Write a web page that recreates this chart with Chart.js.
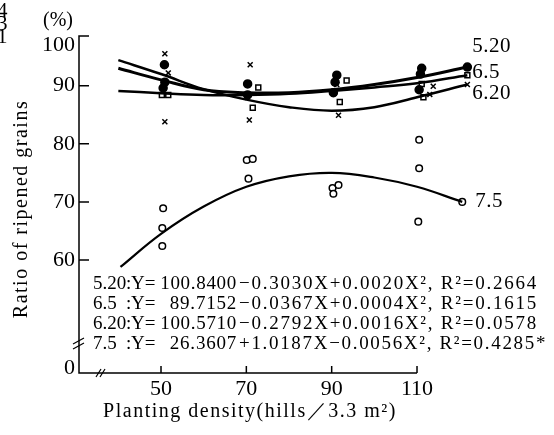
<!DOCTYPE html>
<html>
<head>
<meta charset="utf-8">
<script src="https://cdn.jsdelivr.net/npm/chart.js@4.4.0/dist/chart.umd.min.js"></script>
<style>
  body { margin: 0; background: #fff; }
  #wrap { width: 554px; height: 435px; }
</style>
</head>
<body>
<div id="wrap"><canvas id="chart"></canvas></div>
<script>
// planting density ticks (hills / 3.3 m2)
const densities = [50, 70, 90, 110];
// y ticks: "0" sits on the broken bottom, "100" above the last tick
const yTicks = [41.3, 60, 70, 80, 90, 97];
const yTickText = ["0", "60", "70", "80", "90", "100"];

// transplanting dates
const seriesNames = ["5.20", "6.5", "6.20", "7.5"];

// fitted curves
const curveX = [40, 50, 60, 70, 80, 90, 100, 110, 121.8];
const curve520 = [93.0, 91.0, 89.3, 88.8, 88.8, 89.3, 90.2, 91.4, 93.2];
const curve65 = [89.1, 88.7, 88.4, 88.4, 88.6, 89.1, 89.7, 90.4, 91.8];
const curve620 = [94.4, 92.0, 89.4, 87.6, 86.3, 85.7, 86.3, 88.0, 90.2];
const curveX75 = [40.5, 50, 60, 70, 80, 90, 100, 110, 120.6];
const curve75 = [58.8, 64.5, 69.2, 72.6, 74.4, 75.0, 74.2, 72.6, 70.0];

// observed ratios of ripened grains (%)
const obsX520 = [50.8, 50.9, 50.5, 70.3, 70.3, 91.2, 90.8, 90.4, 111.1, 110.8, 110.5, 121.8];
const obsY520 = [93.6, 90.6, 89.6, 90.3, 88.4, 91.8, 90.6, 88.8, 93.0, 92.0, 89.3, 93.2];
const obsX65 = [50.2, 51.7, 72.8, 71.5, 93.5, 91.9, 111.1, 111.5, 121.8];
const obsY65 = [88.4, 88.4, 89.7, 86.2, 90.9, 87.2, 90.3, 88.0, 91.8];
const obsX620 = [50.9, 51.7, 50.9, 70.9, 70.7, 91.6, 91.2, 113.8, 113.0, 121.8];
const obsY620 = [95.5, 92.2, 83.8, 93.6, 84.1, 84.9, 90.2, 89.9, 88.5, 90.2];
const obsX75 = [50.5, 50.3, 50.3, 70.1, 71.5, 70.5, 90.2, 91.6, 90.4, 110.5, 110.5, 110.3, 120.6];
const obsY75 = [68.9, 65.5, 62.4, 77.2, 77.4, 74.0, 72.4, 72.9, 71.4, 80.7, 75.8, 66.6, 70.0];

// regression equations printed in the figure
const eqCoef = ["100.8400", "89.7152", "100.5710", "26.3607"];
const eqRest = [
  "−0.3030X+0.0020X², R²=0.2664",
  "−0.0367X+0.0004X², R²=0.1615",
  "−0.2792X+0.0016X², R²=0.0578",
  "+1.0187X−0.0056X², R²=0.4285*",
];

const serif = "'Liberation Serif', 'DejaVu Serif', serif";
const toPoints = (xs, ys) => xs.map((x, i) => ({ x: x, y: ys[i] }));

const curve = (xs, ys, width) => ({
  type: "line",
  data: toPoints(xs, ys),
  borderColor: "#000",
  borderWidth: width,
  pointRadius: 0,
  tension: 0.4,
  fill: false,
  clip: false,
});

const marks = (xs, ys, style, radius, fill) => ({
  type: "scatter",
  data: toPoints(xs, ys),
  pointStyle: style,
  pointRadius: radius,
  pointBackgroundColor: fill,
  pointBorderColor: "#000",
  pointBorderWidth: 1.5,
  clip: false,
});

// spread a string so that it fills a given width
const fitText = (ctx, text, x, y, width) => {
  ctx.letterSpacing = "0px";
  const w = ctx.measureText(text).width;
  ctx.letterSpacing = ((width - w) / text.length).toFixed(2) + "px";
  ctx.fillText(text, x, y);
  ctx.letterSpacing = "0px";
};

// axes, ticks, breaks and printed texts
const paperPlugin = {
  id: "paper",
  afterDraw(chart) {
    const ctx = chart.ctx;
    const xs = chart.scales.x;
    const ys = chart.scales.y;
    const left = chart.chartArea.left;
    const top = chart.chartArea.top;
    const bottom = chart.chartArea.bottom;
    const xEnd = xs.getPixelForValue(densities[densities.length - 1]);

    ctx.save();
    ctx.strokeStyle = "#000";
    ctx.lineWidth = 1.5;
    ctx.beginPath();
    ctx.moveTo(left + 10, top);
    ctx.lineTo(left, top);
    ctx.lineTo(left, bottom);
    ctx.lineTo(xEnd, bottom);
    yTicks.forEach((v, i) => {
      if (i === 0 || i === yTicks.length - 1) return;
      const py = ys.getPixelForValue(v);
      ctx.moveTo(left, py);
      ctx.lineTo(left + 10, py);
    });
    densities.forEach((v) => {
      const px = xs.getPixelForValue(v);
      ctx.moveTo(px, bottom);
      ctx.lineTo(px, bottom - 7);
    });
    ctx.stroke();

    // axis breaks
    ctx.lineWidth = 1.2;
    ctx.beginPath();
    ctx.moveTo(96, bottom + 4);
    ctx.lineTo(101, bottom - 4);
    ctx.moveTo(100, bottom + 4);
    ctx.lineTo(105, bottom - 4);
    ctx.moveTo(73, 344);
    ctx.lineTo(84, 338);
    ctx.moveTo(73, 349);
    ctx.lineTo(84, 343);
    ctx.stroke();

    ctx.fillStyle = "#000";
    ctx.textBaseline = "middle";

    // equations
    ctx.font = "19px " + serif;
    seriesNames.forEach((name, i) => {
      const y = 284 + i * 20;
      ctx.textAlign = "left";
      ctx.fillText(name, 93, y);
      ctx.fillText(":", 126, y);
      ctx.fillText("Y=", 131, y);
      fitText(ctx, eqCoef[i], 237 - eqCoef[i].length * 9.6, y, eqCoef[i].length * 9.6);
      fitText(ctx, eqRest[i], 239, y, i === 3 ? 308 : 299);
    });

    // date labels at the curve ends
    ctx.letterSpacing = "0.5px";
    ctx.font = "21px " + serif;
    const ends = [
      [curveX, curve520, -21],
      [curveX, curve65, -3],
      [curveX, curve620, 9],
      [curveX75, curve75, 0],
    ];
    ends.forEach((e, i) => {
      const last = e[0].length - 1;
      const px = xs.getPixelForValue(e[0][last]);
      const py = ys.getPixelForValue(e[1][last]);
      ctx.fillText(seriesNames[i], px + 5 + (i === 3 ? 8 : 0), py + e[2]);
    });

    // axis titles
    ctx.font = "20px " + serif;
    ctx.letterSpacing = "1.5px";
    ctx.textAlign = "center";
    ctx.fillText("Planting density(hills／3.3 m²)", 250, 412);
    ctx.save();
    ctx.translate(22, 209);
    ctx.rotate(-Math.PI / 2);
    ctx.fillText("Ratio of ripened grains", 0, 0);
    ctx.restore();

    ctx.letterSpacing = "0px";
    ctx.fillText("(%)", 58, 21);
    // page remnants cut off at the left edge
    ctx.font = "21px " + serif;
    ctx.textAlign = "left";
    ["4", "3", "1"].forEach((t, i) => ctx.fillText(t, -3, 11 + i * 13));
    ctx.restore();
  },
};

new Chart(document.getElementById("chart"), {
  type: "scatter",
  data: {
    datasets: [
      curve(curveX, curve520, 3),
      curve(curveX, curve65, 2.5),
      curve(curveX, curve620, 2.5),
      curve(curveX75, curve75, 2.2),
      marks(obsX520, obsY520, "circle", 4, "#000"),
      marks(obsX65, obsY65, "rect", 3.5, "#fff"),
      marks(obsX620, obsY620, "crossRot", 3.5, "#000"),
      marks(obsX75, obsY75, "circle", 3.3, "#fff"),
    ],
  },
  options: {
    responsive: true,
    maintainAspectRatio: false,
    animation: false,
    layout: { padding: { top: 36, right: 54, left: 0, bottom: 0 } },
    plugins: { legend: { display: false }, tooltip: { enabled: false } },
    scales: {
      x: {
        type: "linear",
        min: 30.78,
        max: 129.45,
        grid: { display: false, drawTicks: false },
        border: { display: false },
        afterBuildTicks: (s) => { s.ticks = densities.map((v) => ({ value: v })); },
        afterFit: (s) => { s.height = 62; },
        ticks: { autoSkip: false, padding: 3, color: "#000", font: { family: serif, size: 22 } },
      },
      y: {
        min: 40.55,
        max: 98.55,
        grid: { display: false, drawTicks: false },
        border: { display: false },
        afterBuildTicks: (s) => { s.ticks = yTicks.map((v) => ({ value: v })); },
        afterFit: (s) => { s.width = 79; },
        ticks: {
          autoSkip: false,
          padding: 4,
          color: "#000",
          font: { family: serif, size: 22 },
          callback: (v) => yTickText[yTicks.indexOf(v)],
        },
      },
    },
  },
  plugins: [paperPlugin],
});
</script>
</body>
</html>
